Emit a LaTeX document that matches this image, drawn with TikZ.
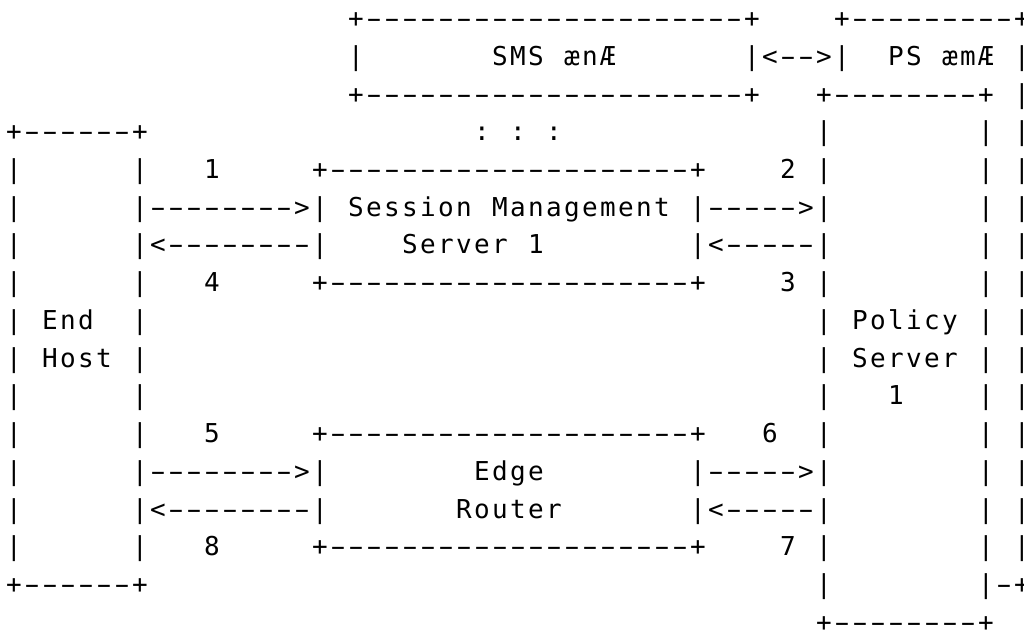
\documentclass[tikz,border=0pt]{standalone}
\usepackage{fontspec}
\usepackage{graphicx}
\newfontfamily\asciifont{DejaVu Sans Mono}

% Each character of a string goes into a cell of fixed width,
% so every glyph sits on the column grid of the drawing.
% Hyphens are widened so that runs of them read as dashed lines.
\newlength\cellw
\setlength\cellw{13.5pt}
\makeatletter
\def\cells#1{\cells@a#1\cells@end}
\def\cells@a{\futurelet\cells@next\cells@b}
\def\cells@b{%
  \ifx\cells@next\cells@end
    \let\cells@do\@gobble
  \else\ifx\cells@next\@sptoken
    \let\cells@do\cells@sp
  \else
    \let\cells@do\cells@ch
  \fi\fi
  \cells@do}
\def\cells@ch#1{%
  \ifx-#1%
    \makebox[\cellw]{\scalebox{1.75}[1]{-}}%
  \else
    \makebox[\cellw]{#1}%
  \fi
  \cells@a}
\def\cells@sp{\afterassignment\cells@spb\let\cells@tmp= }
\def\cells@spb{\hspace*{\cellw}\cells@a}
\makeatother

% One text row: #1 = row number, #2 = list of column/string pairs
\newcommand\asciirow[2]{%
  \foreach \c/\s in {#2}{%
    \node[seg] (t-#1-\c) at ({5+18*\c}, {27.6+37.73*#1})
      {\expandafter\cells\expandafter{\s}};
  }%
}

\begin{document}
\begin{tikzpicture}[x=0.75pt, y=-0.75pt,
  seg/.style={anchor=base west, inner sep=0pt, outer sep=0pt,
    font=\asciifont\fontsize{19.5}{23}\selectfont}]
\useasboundingbox (0,0) rectangle (1024,631);
\clip (0,0) rectangle (1024,631);

% stacked session management servers and policy servers
\asciirow{0}{19/+---------------------+, 46/+---------+}
\asciirow{1}{19/|, 27/SMS ænÆ, 41/|<-->|, 49/PS æmÆ, 56/|}
\asciirow{2}{19/+---------------------+, 45/+--------+, 56/|}
\asciirow{3}{0/+------+, 26/: : :, 45/|, 54/|, 56/|}

% end host <-> session management server <-> policy server
\asciirow{4}{0/|, 7/|, 11/1, 17/+--------------------+, 43/2, 45/|, 54/|, 56/|}
\asciirow{5}{0/|, 7/|-------->|, 19/Session Management, 38/|----->|, 54/|, 56/|}
\asciirow{6}{0/|, 7/|<--------|, 22/Server 1, 38/|<-----|, 54/|, 56/|}
\asciirow{7}{0/|, 7/|, 11/4, 17/+--------------------+, 43/3, 45/|, 54/|, 56/|}

% box labels
\asciirow{8}{0/|, 2/End, 7/|, 45/|, 47/Policy, 54/|, 56/|}
\asciirow{9}{0/|, 2/Host, 7/|, 45/|, 47/Server, 54/|, 56/|}
\asciirow{10}{0/|, 7/|, 45/|, 49/1, 54/|, 56/|}

% end host <-> edge router <-> policy server
\asciirow{11}{0/|, 7/|, 11/5, 17/+--------------------+, 42/6, 45/|, 54/|, 56/|}
\asciirow{12}{0/|, 7/|-------->|, 26/Edge, 38/|----->|, 54/|, 56/|}
\asciirow{13}{0/|, 7/|<--------|, 25/Router, 38/|<-----|, 54/|, 56/|}
\asciirow{14}{0/|, 7/|, 11/8, 17/+--------------------+, 43/7, 45/|, 54/|, 56/|}
\asciirow{15}{0/+------+, 45/|, 54/|-+}
\asciirow{16}{45/+--------+}
\end{tikzpicture}
\end{document}
